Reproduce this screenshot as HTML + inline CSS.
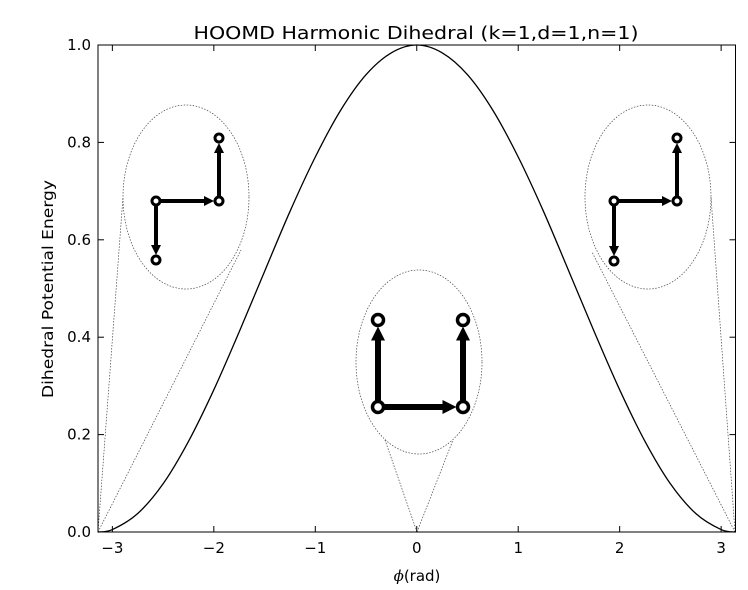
<!DOCTYPE html>
<html><head><meta charset="utf-8"><style>
body{margin:0;background:#fff;}
svg{display:block;font-family:"DejaVu Sans","Liberation Sans",sans-serif;}
</style></head><body>
<svg id="chart" width="748" height="590">
<rect x="0" y="0" width="748" height="590" fill="#fff"/>
<g id="insets"></g>
<g id="marks"></g>
<rect x="98" y="45" width="637.5" height="487" fill="none" stroke="#000" stroke-width="1"/>
<g id="axes"></g>
<text x="416" y="39" text-anchor="middle" font-size="18" textLength="445" lengthAdjust="spacingAndGlyphs">HOOMD Harmonic Dihedral (k=1,d=1,n=1)</text>
<text x="417" y="581" text-anchor="middle" font-size="15"><tspan font-style="italic" font-family="DejaVu Serif">ϕ</tspan>(rad)</text>
<text transform="translate(53,289) rotate(-90)" text-anchor="middle" font-size="15" textLength="218" lengthAdjust="spacingAndGlyphs">Dihedral Potential Energy</text>
</svg>
<script>
const phiValues=[-3.1416,-3.0,-2.75,-2.5,-2.25,-2.0,-1.75,-1.5,-1.25,-1.0,-0.75,-0.5,-0.25,0,0.25,0.5,0.75,1.0,1.25,1.5,1.75,2.0,2.25,2.5,2.75,3.0,3.1416];
const energyValues=[0,0.005,0.038,0.099,0.186,0.292,0.411,0.535,0.658,0.770,0.866,0.939,0.984,1.0,0.984,0.939,0.866,0.770,0.658,0.535,0.411,0.292,0.186,0.099,0.038,0.005,0];
const xTicks=[-3,-2,-1,0,1,2,3];
const xTickLabels=["\u22123","\u22122","\u22121","0","1","2","3"];
const yTicks=[0,0.2,0.4,0.6,0.8,1.0];
const yTickLabels=["0.0","0.2","0.4","0.6","0.8","1.0"];
const L=98,R=735.5,T=45,B=532;
const xs=v=>L+(v+Math.PI)/(2*Math.PI)*(R-L);
const ys=v=>B-v*(B-T);
const NS="http://www.w3.org/2000/svg";
function mk(tag,attrs,parent){const e=document.createElementNS(NS,tag);for(const k in attrs)e.setAttribute(k,attrs[k]);parent.appendChild(e);return e;}
const axes=document.getElementById('axes'),marks=document.getElementById('marks'),ins=document.getElementById('insets');
xTicks.forEach((t,i)=>{const x=xs(t);
 const a=mk('line',{x1:x,x2:x,y1:B,y2:B-6,stroke:'#000'},axes);
 
 
 const b=mk('line',{x1:x,x2:x,y1:T,y2:T+6,stroke:'#000'},axes);
 
 
 const tx=mk('text',{x:x,y:B+21,'text-anchor':'middle','font-size':15},axes);tx.textContent=xTickLabels[i];
 
 
});
yTicks.forEach((t,i)=>{const y=ys(t);
 const a=mk('line',{x1:L,x2:L+6,y1:y,y2:y,stroke:'#000'},axes);
 
 
 const b=mk('line',{x1:R,x2:R-6,y1:y,y2:y,stroke:'#000'},axes);
 
 
 const tx=mk('text',{x:L-7,y:y+5,'text-anchor':'end','font-size':15},axes);tx.textContent=yTickLabels[i];
 
 
});
let pts=phiValues.map((p,i)=>[xs(p),ys(energyValues[i])]);
let d='M'+pts[0][0]+','+pts[0][1];
for(let i=0;i<pts.length-1;i++){const p0=pts[Math.max(0,i-1)],p1=pts[i],p2=pts[i+1],p3=pts[Math.min(pts.length-1,i+2)];
 d+=` C${p1[0]+(p2[0]-p0[0])/6},${p1[1]+(p2[1]-p0[1])/6} ${p2[0]-(p3[0]-p1[0])/6},${p2[1]-(p3[1]-p1[1])/6} ${p2[0]},${p2[1]}`;}
const curve=mk('path',{d:d,fill:'none',stroke:'#000','stroke-width':1.3},marks);


function inset(cx,cy,ax,ay,l1,l2,nodes,big,name){
 const g=mk('g',{},ins);
 
 
 const st={stroke:'#444','stroke-width':0.7,'stroke-dasharray':'1.5,1.5',fill:'none'};
 mk('line',Object.assign({x1:ax,y1:ay,x2:l1[0],y2:l1[1]},st),g);
 mk('line',Object.assign({x1:ax,y1:ay,x2:l2[0],y2:l2[1]},st),g);
 mk('ellipse',Object.assign({cx:cx,cy:cy,rx:63,ry:92},st),g);
 const sw=big?6:4,ah=big?14:10,aw=big?7:5,r=big?5.5:4;
 const [a,b,c,e]=nodes;
 [[a,b],[b,c],[a,e]].forEach(([p,q])=>{
  const dx=q[0]-p[0],dy=q[1]-p[1],len=Math.hypot(dx,dy),ux=dx/len,uy=dy/len;
  const ex=q[0]-ux*(r+1),ey=q[1]-uy*(r+1);
  const bx=ex-ux*ah,by=ey-uy*ah;
  mk('line',{x1:p[0],y1:p[1],x2:bx,y2:by,stroke:'#000','stroke-width':sw},g);
  mk('polygon',{points:`${ex},${ey} ${bx-uy*aw},${by+ux*aw} ${bx+uy*aw},${by-ux*aw}`,fill:'#000'},g);
 });
 nodes.forEach(n=>mk('circle',{cx:n[0],cy:n[1],r:r,fill:'#fff',stroke:'#000','stroke-width':big?3.5:3},g));
}
inset(186,197,98,532,[123,197],[241,250],[[156,201],[219,201],[219,138],[156,260]],false,'inset-left');
inset(648,197,735,532,[711,197],[592,252],[[614,201],[677,201],[677,138],[614,261]],false,'inset-right');
inset(419,362,417,532,[385,440],[453,440],[[378,407],[463,407],[463,320],[378,320]],true,'inset-center');
</script>
</body></html>
